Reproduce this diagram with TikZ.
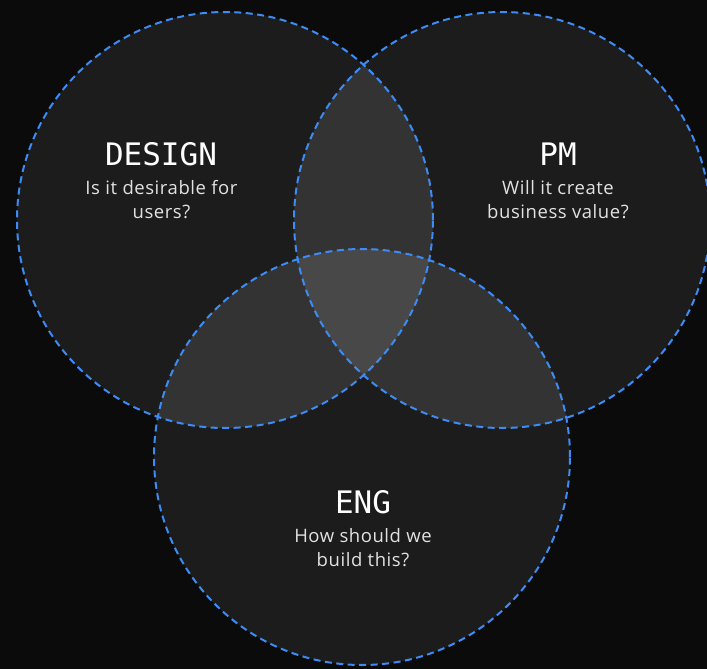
\documentclass[tikz,border=0pt]{standalone}
\usepackage{fontspec}
\newfontfamily\headfont{DejaVu Sans Mono}
\newfontfamily\bodyfont[LetterSpace=3]{Open Sans}
\definecolor{bgc}{HTML}{0B0B0B}
\definecolor{cone}{HTML}{1C1C1C}
\definecolor{ctwo}{HTML}{333333}
\definecolor{cthree}{HTML}{484848}
\definecolor{dashblue}{HTML}{3D8BF5}
\definecolor{bodytext}{HTML}{E2E2E2}
\begin{document}
\begin{tikzpicture}[x=1pt,y=-1pt,
  outline/.style={draw=dashblue,line width=2pt,dash pattern=on 7pt off 4.5pt},
  head/.style={anchor=base,inner sep=0pt,text=white,font=\headfont\fontsize{31}{31}\selectfont},
  body/.style={anchor=base,inner sep=0pt,text=bodytext,font=\bodyfont\fontsize{18.5}{18.5}\selectfont}]
\fill[bgc] (0,0) rectangle (707,669);
\useasboundingbox (0,0) rectangle (707,669);
\coordinate (cD) at (225,220);
\coordinate (cP) at (502,220);
\coordinate (cE) at (362,457);
\fill[cone] (cD) circle[radius=208pt];
\fill[cone] (cP) circle[radius=208pt];
\fill[cone] (cE) circle[radius=208pt];
\begin{scope}
  \clip (cD) circle[radius=208pt];
  \fill[ctwo] (cP) circle[radius=208pt];
  \fill[ctwo] (cE) circle[radius=208pt];
\end{scope}
\begin{scope}
  \clip (cP) circle[radius=208pt];
  \fill[ctwo] (cE) circle[radius=208pt];
\end{scope}
\begin{scope}
  \clip (cD) circle[radius=208pt];
  \clip (cP) circle[radius=208pt];
  \fill[cthree] (cE) circle[radius=208pt];
\end{scope}
\draw[outline] (cD) circle[radius=208pt];
\draw[outline] (cP) circle[radius=208pt];
\draw[outline] (cE) circle[radius=208pt];
\node[head] (dh) at (161,165) {DESIGN};
\node[body] (d1) at (161.5,194) {Is it desirable for};
\node[body] (d2) at (161.5,218) {users?};
\node[head] (ph) at (558,165) {PM};
\node[body] (p1) at (558,194) {Will it create};
\node[body] (p2) at (558,218) {business value?};
\node[head] (eh) at (363,513) {ENG};
\node[body] (e1) at (363,542) {How should we};
\node[body] (e2) at (363,566) {build this?};
\end{tikzpicture}
\end{document}
